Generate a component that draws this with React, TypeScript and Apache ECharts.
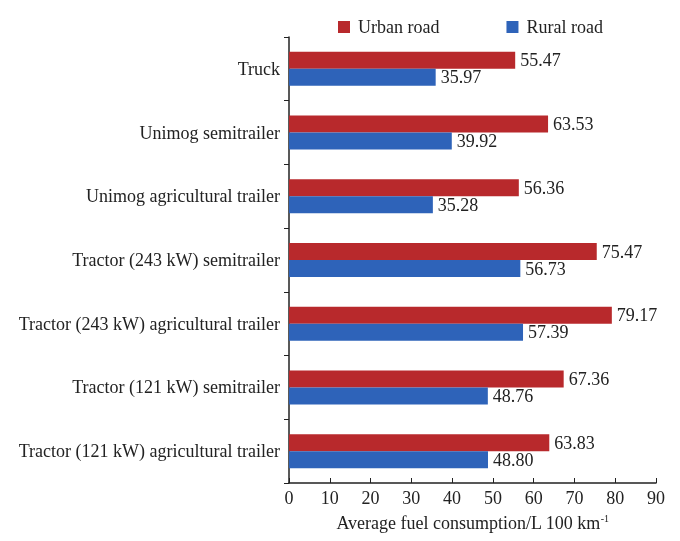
import React, { useEffect, useRef } from "react";
import * as echarts from "echarts";

const categories = [
  "Truck",
  "Unimog semitrailer",
  "Unimog agricultural trailer",
  "Tractor (243 kW) semitrailer",
  "Tractor (243 kW) agricultural trailer",
  "Tractor (121 kW) semitrailer",
  "Tractor (121 kW) agricultural trailer",
];
const urbanRoad = [55.47, 63.53, 56.36, 75.47, 79.17, 67.36, 63.83];
const ruralRoad = [35.97, 39.92, 35.28, 56.73, 57.39, 48.76, 48.8];
const seriesNames = ["Urban road", "Rural road"];

const FONT = "Liberation Serif";

export default function App() {
  const ref = useRef<HTMLDivElement>(null);
  useEffect(() => {
    if (!ref.current) return;
    const chart = echarts.init(ref.current, null, { renderer: "svg" });
    const label = {
      show: true,
      position: "right" as const,
      distance: 5,
      color: "#222",
      fontFamily: FONT,
      fontSize: 18,
      formatter: (p: any) => Number(p.value).toFixed(2),
    };
    chart.setOption({
      animation: false,
      textStyle: { fontFamily: FONT },
      legend: {
        top: 13,
        left: 333,
        itemWidth: 12,
        itemHeight: 12,
        itemGap: 67,
        icon: "rect",
        textStyle: { fontFamily: FONT, fontSize: 18, color: "#222", padding: [0, 0, 0, 3] },
        data: seriesNames,
      },
      grid: { left: 289, right: 24, top: 37, bottom: 58, containLabel: false },
      xAxis: {
        type: "value",
        min: 0,
        max: 90,
        interval: 10,
        name: "Average fuel consumption/L 100 km{sup|-1}",
        nameLocation: "middle",
        nameGap: 30,
        nameTextStyle: {
          fontFamily: FONT,
          fontSize: 18,
          color: "#222",
          rich: { sup: { fontSize: 10, verticalAlign: "top", padding: [0, 0, 9, 0], fontFamily: FONT, color: "#222" } },
        },
        axisLine: { show: true, lineStyle: { color: "#222", width: 1.5 } },
        axisTick: { show: true, inside: true, length: 5, lineStyle: { color: "#222" } },
        axisLabel: { fontFamily: FONT, fontSize: 18, color: "#222", margin: 6 },
        splitLine: { show: false },
      },
      yAxis: {
        type: "category",
        inverse: true,
        data: categories,
        axisLine: { show: true, lineStyle: { color: "#222", width: 1.5 } },
        axisTick: { show: true, length: 5, lineStyle: { color: "#222" } },
        axisLabel: { fontFamily: FONT, fontSize: 18, color: "#222", margin: 9 },
      },
      series: [
        {
          name: seriesNames[0],
          type: "bar",
          data: urbanRoad,
          barWidth: 17,
          barGap: "0%",
          itemStyle: { color: "#b8292c" },
          label,
        },
        {
          name: seriesNames[1],
          type: "bar",
          data: ruralRoad,
          barWidth: 17,
          barGap: "0%",
          itemStyle: { color: "#2e63b9" },
          label,
        },
      ],
    });
    return () => chart.dispose();
  }, []);
  return (
    <div
      ref={ref}
      style={{ position: "fixed", left: 0, top: 0, width: 680, height: 541 }}
    />
  );
}
